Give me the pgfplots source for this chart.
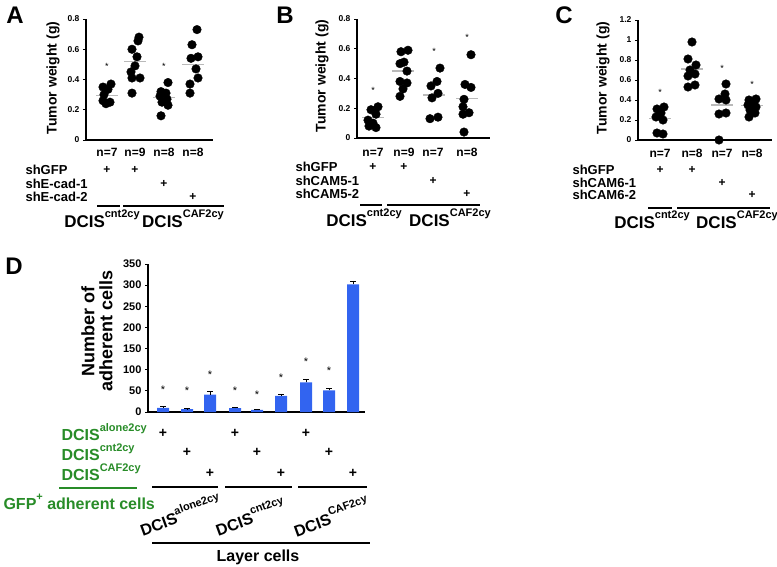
\documentclass[border=0pt]{standalone}
\usepackage{fontspec}
\setmainfont{Liberation Sans}
\usepackage{pgfplots}
\pgfplotsset{compat=1.18}
\definecolor{lblgreen}{RGB}{40,140,40}
\definecolor{barblue}{RGB}{50,100,240}

\newcommand{\fs}[1]{\fontsize{#1}{#1}\selectfont}
\newcommand{\sups}[2][11]{\raisebox{0.55em}{\fs{#1}#2}}

\pgfplotsset{
  tumor/.style={
    scale only axis, anchor=south west,
    axis lines=left, axis line style={-, line width=1.3pt},
    xmin=0, ymin=0, xtick=\empty, clip=false,
    tick align=outside, major tick length=3pt,
    tick style={black, line width=0.8pt},
    /pgf/number format/assume math mode=true,
    yticklabel style={font=\bfseries\fs{8.5}},
  },
  dots/.style={only marks, mark=*, mark size=4.3pt, black},
  meanline/.style={no marks, gray!55, line width=1.3pt},
}

\begin{document}
\begin{tikzpicture}[x=1pt, y=1pt]
\useasboundingbox (0pt,0pt) rectangle (777pt,-566pt);

% ---------------- A ----------------
\begin{axis}[tumor, at={(86pt,-140pt)}, width=127pt, height=121pt,
  xmax=127, ymax=0.8, ytick={0,0.2,0.4,0.6,0.8}]
\addplot[dots] coordinates {(25,0.37)(17,0.35)(22,0.335)(18,0.30)(17,0.26)(24,0.25)(20,0.24)};
\addplot[dots] coordinates {(53,0.68)(52,0.655)(46,0.60)(51,0.55)(49,0.49)(45,0.45)(46,0.41)(54,0.41)(46,0.31)};
\addplot[dots] coordinates {(82,0.38)(75,0.32)(80,0.31)(74,0.29)(81,0.27)(76,0.25)(82,0.23)(75,0.16)};
\addplot[dots] coordinates {(111,0.73)(106,0.63)(112,0.55)(105,0.54)(110,0.47)(112,0.41)(104,0.37)(104,0.31)};
\addplot[meanline] coordinates {(10,0.295)(32,0.295)};
\addplot[meanline] coordinates {(38,0.52)(60,0.52)};
\addplot[meanline] coordinates {(67,0.28)(89,0.28)};
\addplot[meanline] coordinates {(96,0.50)(118,0.50)};
\node[font=\fs{9}] at (axis cs:21,0.485) {*};
\node[font=\fs{9}] at (axis cs:78,0.485) {*};
\end{axis}
\node[font=\bfseries\fs{24}] at (15,-15) {A};
\node[font=\bfseries\fs{14}, rotate=90] at (53,-78) {Tumor weight (g)};
\foreach \x/\t in {107/7,135/9,164/8,193/8}
  \node[font=\bfseries\fs{12}] at (\x,-152) {n=\t};
\node[font=\bfseries\fs{13}, anchor=west] at (22,-170) {shGFP};
\node[font=\bfseries\fs{13}, anchor=west] at (22,-184) {shE-cad-1};
\node[font=\bfseries\fs{13}, anchor=west] at (22,-197) {shE-cad-2};
\foreach \x/\y in {107/170,135/170,164/184,193/197}
  \node[font=\bfseries\fs{12}] at (\x,-\y) {+};
\draw[line width=1.2pt] (97,-206) -- (120,-206) (123,-206) -- (224,-206);
\node[font=\bfseries\fs{17}, anchor=base] at (102,-227) {DCIS\sups{cnt2cy}};
\node[font=\bfseries\fs{17}, anchor=base] at (183,-227) {DCIS\sups{CAF2cy}};

% ---------------- B ----------------
\begin{axis}[tumor, at={(357pt,-138pt)}, width=133pt, height=119pt,
  xmax=133, ymax=0.8, ytick={0,0.2,0.4,0.6,0.8}]
\addplot[dots] coordinates {(21,0.21)(14,0.19)(19,0.16)(11,0.12)(16,0.10)(12,0.08)(19,0.07)};
\addplot[dots] coordinates {(51,0.59)(44,0.58)(47,0.51)(43,0.50)(50,0.45)(43,0.38)(50,0.37)(46,0.33)(43,0.28)};
\addplot[dots] coordinates {(83,0.47)(80,0.38)(74,0.35)(81,0.30)(75,0.27)(81,0.14)(73,0.13)};
\addplot[dots] coordinates {(114,0.56)(108,0.36)(114,0.34)(107,0.26)(106,0.21)(112,0.17)(106,0.16)(107,0.04)};
\addplot[meanline] coordinates {(5,0.14)(27,0.14)};
\addplot[meanline] coordinates {(35,0.45)(57,0.45)};
\addplot[meanline] coordinates {(66,0.29)(88,0.29)};
\addplot[meanline] coordinates {(99,0.265)(121,0.265)};
\node[font=\fs{9}] at (axis cs:16,0.32) {*};
\node[font=\fs{9}] at (axis cs:77,0.58) {*};
\node[font=\fs{9}] at (axis cs:110,0.675) {*};
\end{axis}
\node[font=\bfseries\fs{24}] at (285,-15) {B};
\node[font=\bfseries\fs{14}, rotate=90] at (322,-76) {Tumor weight (g)};
\foreach \x/\t in {373/7,404/9,433/7,467/8}
  \node[font=\bfseries\fs{12}] at (\x,-152) {n=\t};
\node[font=\bfseries\fs{13}, anchor=west] at (292,-167) {shGFP};
\node[font=\bfseries\fs{13}, anchor=west] at (292,-181) {shCAM5-1};
\node[font=\bfseries\fs{13}, anchor=west] at (292,-194) {shCAM5-2};
\foreach \x/\y in {373/167,404/167,433/181,467/194}
  \node[font=\bfseries\fs{12}] at (\x,-\y) {+};
\draw[line width=1.2pt] (360,-205) -- (382,-205) (387,-205) -- (480,-205);
\node[font=\bfseries\fs{17}, anchor=base] at (364,-226) {DCIS\sups{cnt2cy}};
\node[font=\bfseries\fs{17}, anchor=base] at (450,-226) {DCIS\sups{CAF2cy}};

% ---------------- C ----------------
\begin{axis}[tumor, at={(638pt,-140pt)}, width=134pt, height=120pt,
  xmax=134, ymax=1.2, ytick={0,0.2,0.4,0.6,0.8,1,1.2}]
\addplot[dots] coordinates {(26,0.33)(19,0.31)(23,0.27)(18,0.23)(25,0.20)(19,0.07)(25,0.06)};
\addplot[dots] coordinates {(54,0.98)(50,0.81)(58,0.75)(52,0.70)(57,0.66)(50,0.64)(57,0.55)(50,0.53)};
\addplot[dots] coordinates {(88,0.56)(87,0.46)(81,0.41)(88,0.40)(88,0.27)(81,0.26)(81,0.0)};
\addplot[dots] coordinates {(118,0.41)(111,0.40)(116,0.38)(110,0.35)(118,0.33)(112,0.30)(117,0.27)(111,0.23)};
\addplot[meanline] coordinates {(11,0.215)(33,0.215)};
\addplot[meanline] coordinates {(43,0.71)(65,0.71)};
\addplot[meanline] coordinates {(73,0.35)(95,0.35)};
\addplot[meanline] coordinates {(103,0.345)(125,0.345)};
\node[font=\fs{9}] at (axis cs:22,0.48) {*};
\node[font=\fs{9}] at (axis cs:84,0.715) {*};
\node[font=\fs{9}] at (axis cs:114,0.56) {*};
\end{axis}
\node[font=\bfseries\fs{24}] at (564,-15) {C};
\node[font=\bfseries\fs{14}, rotate=90] at (603,-78) {Tumor weight (g)};
\foreach \x/\t in {660/7,692/8,722/7,752/8}
  \node[font=\bfseries\fs{12}] at (\x,-153) {n=\t};
\node[font=\bfseries\fs{13}, anchor=west] at (569,-170) {shGFP};
\node[font=\bfseries\fs{13}, anchor=west] at (569,-183) {shCAM6-1};
\node[font=\bfseries\fs{13}, anchor=west] at (569,-195) {shCAM6-2};
\foreach \x/\y in {660/170,692/170,722/183,752/195}
  \node[font=\bfseries\fs{12}] at (\x,-\y) {+};
\draw[line width=1.2pt] (648,-208) -- (672,-208) (677,-208) -- (770,-208);
\node[font=\bfseries\fs{17}, anchor=base] at (652,-228) {DCIS\sups{cnt2cy}};
\node[font=\bfseries\fs{17}, anchor=base] at (737,-228) {DCIS\sups{CAF2cy}};

% ---------------- D ----------------
\begin{axis}[scale only axis, anchor=south west, at={(148pt,-412pt)},
  width=217pt, height=148pt, xmin=0, xmax=217, ymin=0, ymax=350,
  axis lines=left, axis line style={-, line width=1.6pt},
  xtick=\empty, ytick={0,50,...,350}, clip=false,
  tick align=outside, major tick length=3pt,
  tick style={black, line width=0.8pt},
  /pgf/number format/assume math mode=true,
  yticklabel style={font=\bfseries\fs{11}}]
\addplot[ybar, bar width=12pt, fill=barblue, draw=none,
  error bars/.cd, y dir=plus, y explicit,
  error bar style={black, line width=0.6pt},
  error mark options={rotate=90, mark size=3pt, black, line width=0.6pt}]
  coordinates {
  (15,10) +- (0,3)
  (39,7) +- (0,1)
  (62,41) +- (0,7)
  (87,9) +- (0,2)
  (109,5) +- (0,1)
  (133,38) +- (0,5)
  (158,70) +- (0,7)
  (181,51) +- (0,5)
  (205,302) +- (0,8)
  };
\node[font=\fs{11}] at (axis cs:15,53) {*};
\node[font=\fs{11}] at (axis cs:39,51) {*};
\node[font=\fs{11}] at (axis cs:62,88) {*};
\node[font=\fs{11}] at (axis cs:87,51) {*};
\node[font=\fs{11}] at (axis cs:109,41) {*};
\node[font=\fs{11}] at (axis cs:133,81) {*};
\node[font=\fs{11}] at (axis cs:158,120) {*};
\node[font=\fs{11}] at (axis cs:181,97) {*};
\end{axis}
\node[font=\bfseries\fs{24}] at (14,-266) {D};
\node[font=\bfseries\fs{18}, rotate=90, align=center] at (97,-331)
  {\fontsize{18}{17}\selectfont Number of\\adherent cells};
\node[font=\bfseries\fs{16}, text=lblgreen, anchor=base west] at (58,-440) {DCIS\sups{alone2cy}};
\node[font=\bfseries\fs{16}, text=lblgreen, anchor=base west] at (58,-460) {DCIS\sups{cnt2cy}};
\node[font=\bfseries\fs{16}, text=lblgreen, anchor=base west] at (58,-480) {DCIS\sups{CAF2cy}};
\foreach \x/\y in {163/433,235/433,306/433,187/452,257/452,329/452,210/473,281/473,353/473}
  \node[font=\bfseries\fs{14}] at (\x,-\y) {+};
\draw[lblgreen, line width=1.2pt] (59,-488) -- (137,-488);
\draw[line width=1.2pt] (152,-487) -- (218,-487) (225,-487) -- (292,-487) (298,-487) -- (367,-487);
\node[font=\bfseries\fs{16}, text=lblgreen, anchor=west] at (0,-502) {GFP\sups[11]{+} adherent cells};
\node[font=\bfseries\fs{16}, rotate=20] at (180,-514) {DCIS\sups{alone2cy}};
\node[font=\bfseries\fs{16}, rotate=20] at (250,-516) {DCIS\sups{cnt2cy}};
\node[font=\bfseries\fs{16}, rotate=20] at (331,-516) {DCIS\sups{CAF2cy}};
\draw[line width=1.2pt] (152,-543) -- (370,-543);
\node[font=\bfseries\fs{16}] at (258,-557) {Layer cells};
\end{tikzpicture}
\end{document}
